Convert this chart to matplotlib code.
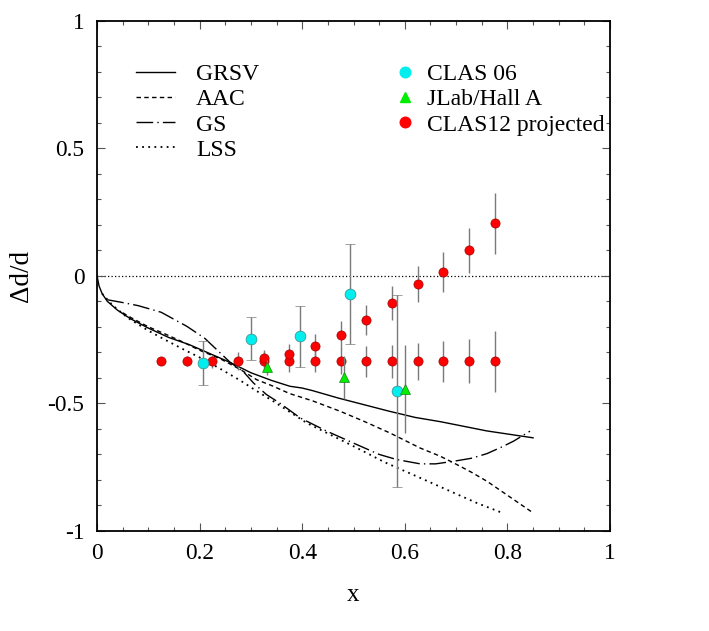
import matplotlib
matplotlib.use("Agg")
import matplotlib.pyplot as plt
from matplotlib.ticker import MultipleLocator, FuncFormatter
from matplotlib.lines import Line2D

plt.rcParams["font.family"] = ["Liberation Serif", "DejaVu Serif"]
plt.rcParams["axes.unicode_minus"] = False

# model curves
grsv_x = [0, 0.004, 0.01, 0.02, 0.04, 0.065, 0.1, 0.14, 0.18, 0.22, 0.26, 0.3, 0.34,
          0.376, 0.40, 0.42, 0.47, 0.52, 0.57, 0.62, 0.67, 0.72, 0.76, 0.80, 0.85]
grsv_y = [0, -0.04, -0.07, -0.10, -0.135, -0.168, -0.205, -0.242, -0.27, -0.305, -0.34,
          -0.38, -0.41, -0.433, -0.44, -0.45, -0.479, -0.505, -0.531, -0.555, -0.572,
          -0.592, -0.608, -0.62, -0.635]

aac_x = [0.05, 0.068, 0.1, 0.136, 0.17, 0.2, 0.24, 0.28, 0.311, 0.34, 0.376, 0.42, 0.474,
         0.52, 0.571, 0.63, 0.669, 0.695, 0.73, 0.76, 0.80, 0.85]
aac_y = [-0.145, -0.166, -0.20, -0.231, -0.262, -0.292, -0.325, -0.368, -0.407, -0.43,
         -0.462, -0.49, -0.531, -0.57, -0.616, -0.675, -0.707, -0.733, -0.77, -0.805,
         -0.86, -0.929]

gs_x = [0.02, 0.05, 0.08, 0.125, 0.175, 0.21, 0.23, 0.26, 0.285, 0.305, 0.33, 0.357,
        0.396, 0.448, 0.506, 0.55, 0.584, 0.63, 0.66, 0.695, 0.73, 0.76, 0.79, 0.812, 0.844]
gs_y = [-0.094, -0.105, -0.117, -0.143, -0.198, -0.245, -0.283, -0.34, -0.375, -0.42,
        -0.465, -0.5, -0.557, -0.609, -0.661, -0.70, -0.72, -0.737, -0.737, -0.727,
        -0.715, -0.697, -0.67, -0.648, -0.609]

lss_x = [0.01, 0.03, 0.06, 0.1, 0.13, 0.17, 0.21, 0.245, 0.279, 0.31, 0.344, 0.409,
         0.474, 0.506, 0.56, 0.63, 0.695, 0.74, 0.79]
lss_y = [-0.07, -0.115, -0.165, -0.215, -0.248, -0.29, -0.33, -0.37, -0.41, -0.45,
         -0.492, -0.577, -0.642, -0.674, -0.73, -0.792, -0.85, -0.89, -0.929]

# data
clas06_x = [0.207, 0.301, 0.396, 0.493, 0.585]
clas06_y = [-0.342, -0.247, -0.238, -0.072, -0.452]
clas06_err = [0.088, 0.085, 0.118, 0.196, 0.375]

halla_x = [0.332, 0.482, 0.601]
halla_y = [-0.359, -0.398, -0.444]
halla_err = [0.03, 0.083, 0.172]

proj_flat_x = [0.125, 0.175, 0.225, 0.275, 0.325, 0.375, 0.425, 0.475, 0.525, 0.575,
               0.625, 0.675, 0.725, 0.775]
proj_flat_y = [-0.335] * 14
proj_flat_err = [0.015, 0.02, 0.025, 0.035, 0.035, 0.043, 0.043, 0.05, 0.06, 0.065,
                 0.072, 0.08, 0.087, 0.12]

proj_up_x = [0.325, 0.375, 0.425, 0.475, 0.525, 0.575, 0.625, 0.675, 0.725, 0.775]
proj_up_y = [-0.322, -0.306, -0.274, -0.233, -0.172, -0.107, -0.032, 0.014, 0.099, 0.206]
proj_up_err = [0.03, 0.039, 0.047, 0.054, 0.059, 0.065, 0.072, 0.079, 0.088, 0.12]

fig = plt.figure(figsize=(7.09, 6.31), dpi=100)
ax = fig.add_axes([0.1368, 0.1585, 0.7236, 0.809])

ax.axhline(0, color="black", lw=0.9, ls=(0, (1, 1.8)), zorder=1)

ax.plot(grsv_x, grsv_y, color="black", lw=1.0, label="GRSV", zorder=2)
ax.plot(aac_x, aac_y, color="black", lw=1.0, ls=(0, (3.2, 2.4)), label="AAC", zorder=2)
ax.plot(gs_x, gs_y, color="black", lw=1.0, ls=(0, (12, 3, 1, 3)), label="GS", zorder=2)
ax.plot(lss_x, lss_y, color="black", lw=1.3, ls=(0, (1, 2.4)), label="LSS", zorder=2)

err_col = "#7a7a7a"
ax.errorbar(proj_flat_x, proj_flat_y, yerr=proj_flat_err, fmt="o", ms=6.6,
            mfc="#ff0000", mec="#a00000", mew=0.5, ecolor=err_col, elinewidth=1.0,
            capsize=0, zorder=4)
ax.errorbar(proj_up_x, proj_up_y, yerr=proj_up_err, fmt="o", ms=6.6,
            mfc="#ff0000", mec="#a00000", mew=0.5, ecolor=err_col, elinewidth=1.0,
            capsize=0, zorder=4)
ax.errorbar(clas06_x, clas06_y, yerr=clas06_err, fmt="o", ms=7.8,
            mfc="#00eeee", mec="#3a8a8a", mew=0.5, ecolor=err_col, elinewidth=1.0,
            capsize=3.3, capthick=1.0, zorder=5)
ax.errorbar(halla_x, halla_y, yerr=halla_err, fmt="^", ms=7.4,
            mfc="#00ee00", mec="#208020", mew=0.5, ecolor=err_col, elinewidth=1.0,
            capsize=0, zorder=5)

ax.set_xlim(0, 1)
ax.set_ylim(-1, 1)
ax.xaxis.set_major_locator(MultipleLocator(0.2))
ax.xaxis.set_minor_locator(MultipleLocator(0.05))
ax.yaxis.set_major_locator(MultipleLocator(0.5))
ax.yaxis.set_minor_locator(MultipleLocator(0.1))
fmt = FuncFormatter(lambda v, p: f"{v:g}")
ax.xaxis.set_major_formatter(fmt)
ax.yaxis.set_major_formatter(fmt)
ax.tick_params(which="both", direction="in", top=True, right=True, color="#555555",
               labelsize=16.8, pad=9)
ax.tick_params(which="major", length=6, width=0.8)
ax.tick_params(which="minor", length=3, width=0.8)
for s in ax.spines.values():
    s.set_linewidth(1.3)

ax.set_xlabel("x", fontsize=18, labelpad=14)
ax.set_ylabel("Δd/d", fontsize=19.5, labelpad=10)

leg1 = ax.legend(handles=ax.get_lines()[1:5], loc="upper left",
                 bbox_to_anchor=(0.076, 0.915), frameon=False, fontsize=17,
                 handlelength=1.65, handletextpad=0.9, labelspacing=0.15,
                 borderpad=0, borderaxespad=0)
ax.add_artist(leg1)

mk = [
    Line2D([], [], ls="none", marker="o", ms=7.6, mfc="#00eeee", mec="#00eeee",
           label="CLAS 06"),
    Line2D([], [], ls="none", marker="^", ms=7.4, mfc="#00ee00", mec="#00ee00",
           label="JLab/Hall A"),
    Line2D([], [], ls="none", marker="o", ms=7.6, mfc="#ff0000", mec="#ff0000",
           label="CLAS12 projected"),
]
ax.legend(handles=mk, loc="upper left", bbox_to_anchor=(0.583, 0.915),
          frameon=False, fontsize=17, handlelength=0.76, handletextpad=0.53,
          labelspacing=0.15, borderpad=0, borderaxespad=0, numpoints=1)

fig.savefig("out.png", dpi=100)
